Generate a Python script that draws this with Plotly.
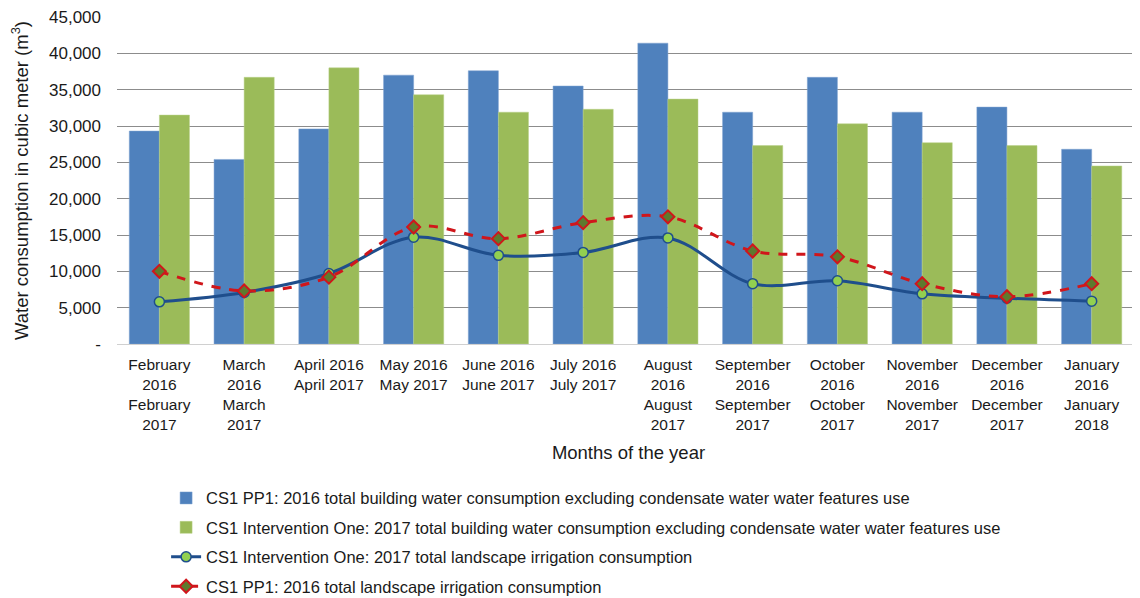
import plotly.graph_objects as go

months = ["February<br>2016<br>February<br>2017", "March<br>2016<br>March<br>2017",
          "April 2016<br>April 2017", "May 2016<br>May 2017", "June 2016<br>June 2017",
          "July 2016<br>July 2017", "August<br>2016<br>August<br>2017",
          "September<br>2016<br>September<br>2017", "October<br>2016<br>October<br>2017",
          "November<br>2016<br>November<br>2017", "December<br>2016<br>December<br>2017",
          "January<br>2016<br>January<br>2018"]

building_2016 = [29300, 25400, 29600, 37000, 37600, 35500, 41400, 31900, 36700, 31900, 32600, 26800]
building_2017 = [31500, 36700, 38000, 34300, 31900, 32300, 33700, 27300, 30300, 27700, 27300, 24500]
irrigation_2017 = [5800, 7100, 9700, 14700, 12200, 12600, 14600, 8300, 8700, 6900, 6300, 5900]
irrigation_2016 = [10000, 7300, 9200, 16100, 14500, 16700, 17500, 12800, 12000, 8300, 6500, 8300]

ytick_vals = [0, 5000, 10000, 15000, 20000, 25000, 30000, 35000, 40000, 45000]
ytick_text = ["-", "5,000", "10,000", "15,000", "20,000", "25,000", "30,000", "35,000", "40,000", "45,000"]

names = ["CS1 PP1: 2016 total building water consumption excluding condensate water water features use",
         "CS1 Intervention One: 2017 total building water consumption excluding condensate water water features use",
         "CS1 Intervention One: 2017 total landscape irrigation consumption",
         "CS1 PP1: 2016 total landscape irrigation consumption"]

font = "Liberation Sans, Arial, sans-serif"

fig = go.Figure()
fig.add_trace(go.Bar(x=months, y=building_2016, name=names[0], marker_color="#4F81BD",
                     marker_line=dict(color="#7FA3D1", width=0.5), legendgroup="a"))
fig.add_trace(go.Bar(x=months, y=building_2017, name=names[1], marker_color="#9BBB59",
                     marker_line=dict(color="#B9D088", width=0.5), legendgroup="b"))
fig.add_trace(go.Scatter(x=months, y=irrigation_2017, name=names[2], mode="lines+markers",
                         line=dict(color="#1F4E8C", width=3, shape="spline"),
                         marker=dict(symbol="circle", size=10, color="#92D050",
                                     line=dict(color="#1F4E8C", width=1.5)),
                         legendgroup="c"))
fig.add_trace(go.Scatter(x=months, y=irrigation_2016, name=names[3], mode="lines+markers",
                         line=dict(color="#D0161B", width=3, dash="dash", shape="spline"),
                         marker=dict(symbol="diamond", size=10, color="#5E7A2E",
                                     line=dict(color="#D0161B", width=2)),
                         legendgroup="d"))

# page body adds an 8px offset, so the figure is a bit smaller than the window
fig.update_layout(
    width=1132, height=590,
    margin=dict(l=109, r=0, t=9, b=254, autoexpand=False),
    plot_bgcolor="white", paper_bgcolor="white",
    font=dict(family=font, size=16, color="#1A1A1A"),
    barmode="group", bargap=0.29, bargroupgap=0,
    legend=dict(x=0.048, y=-0.418, xanchor="left", yanchor="top",
                traceorder="grouped", tracegroupgap=5,
                font=dict(size=16.5, family=font)),
)
fig.update_yaxes(range=[0, 45000], tickvals=ytick_vals, ticktext=ytick_text,
                 showgrid=True, gridcolor="#8C8C8C", gridwidth=1, zeroline=False,
                 automargin=False, ticks="", ticklabelstandoff=15,
                 ticklabeloverflow="allow", tickfont=dict(size=17),
                 title=dict(text="Water consumption in cubic meter (m<sup>3</sup>)",
                            font=dict(size=18.5), standoff=17))
# the reference plot area runs slightly past the right edge of the image
fig.update_xaxes(range=[-0.5, 11.57], showline=True, linecolor="#D0D0D0", linewidth=1,
                 tickangle=0, automargin=False, tickfont=dict(size=15.5), ticklabelstandoff=6,
                 ticklabeloverflow="allow",
                 title=dict(text="Months of the year", font=dict(size=18.5), standoff=14))

fig.write_html("out.html")
